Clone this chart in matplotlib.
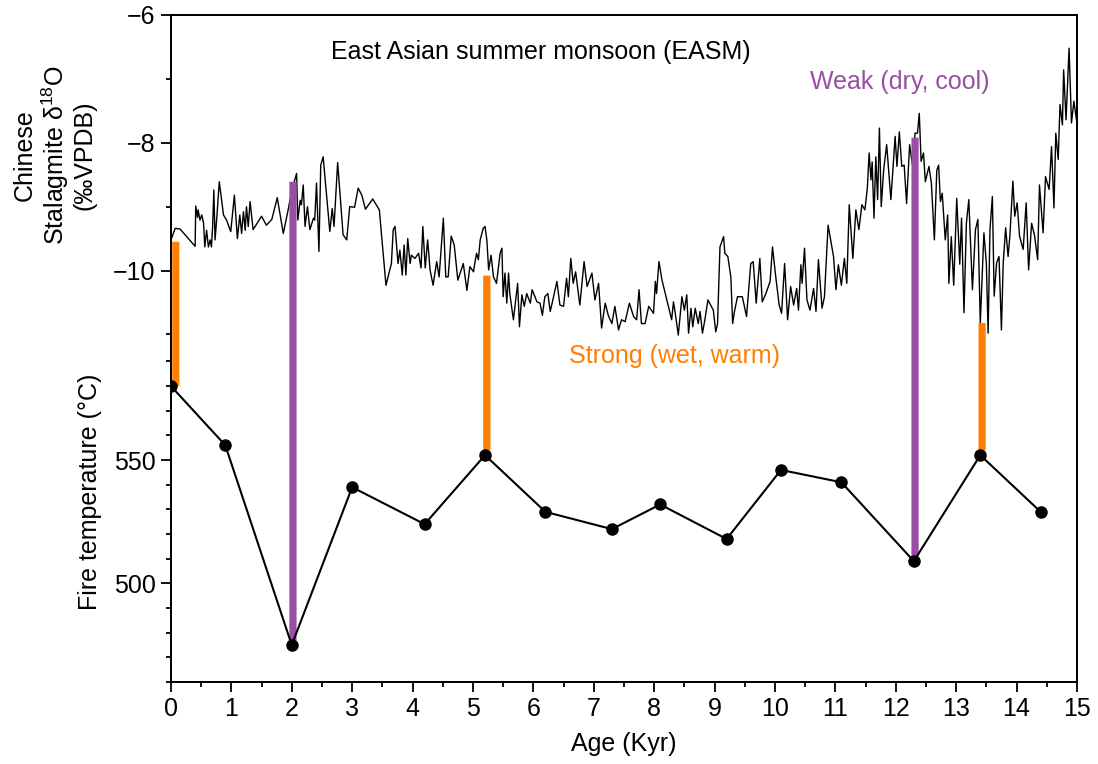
import matplotlib
matplotlib.use("Agg")
import matplotlib.pyplot as plt
from matplotlib.patches import ConnectionPatch

plt.rcParams['font.family'] = ['Liberation Sans', 'DejaVu Sans']
plt.rcParams['mathtext.fontset'] = 'custom'
plt.rcParams['mathtext.rm'] = 'Liberation Sans'
plt.rcParams['mathtext.it'] = 'Liberation Sans:italic'

# stalagmite d18O record (age in kyr, permil VPDB)
easm_age = [0.00, 0.07, 0.15, 0.40, 0.41, 0.44, 0.45, 0.48, 0.51, 0.54, 0.56, 0.59, 0.62, 0.65,
            0.67, 0.69, 0.71, 0.73, 0.76, 0.80, 0.87, 0.92, 0.99, 1.05, 1.10, 1.14, 1.17, 1.20,
            1.23, 1.25, 1.28, 1.31, 1.36, 1.50, 1.58, 1.67, 1.76, 1.86, 1.94, 2.00, 2.08, 2.10,
            2.14, 2.16, 2.19, 2.22, 2.26, 2.30, 2.36, 2.38, 2.41, 2.45, 2.48, 2.52, 2.63, 2.67,
            2.70, 2.76, 2.85, 2.91, 2.96, 3.04, 3.10, 3.16, 3.22, 3.34, 3.45, 3.56, 3.65, 3.68,
            3.71, 3.76, 3.79, 3.83, 3.86, 3.89, 3.92, 3.96, 3.98, 4.04, 4.10, 4.14, 4.17, 4.21,
            4.25, 4.29, 4.34, 4.40, 4.44, 4.51, 4.55, 4.59, 4.64, 4.69, 4.75, 4.84, 4.90, 4.95,
            5.01, 5.03, 5.06, 5.09, 5.12, 5.17, 5.20, 5.23, 5.26, 5.30, 5.34, 5.39, 5.45, 5.48,
            5.50, 5.53, 5.56, 5.59, 5.61, 5.67, 5.74, 5.77, 5.81, 5.85, 5.89, 5.95, 5.98, 6.06,
            6.11, 6.15, 6.19, 6.24, 6.28, 6.33, 6.39, 6.44, 6.50, 6.55, 6.58, 6.62, 6.66, 6.70,
            6.77, 6.84, 6.89, 6.97, 7.02, 7.08, 7.13, 7.19, 7.24, 7.30, 7.35, 7.41, 7.46, 7.52,
            7.59, 7.66, 7.71, 7.75, 7.79, 7.85, 7.91, 7.99, 8.02, 8.04, 8.08, 8.13, 8.21, 8.29,
            8.32, 8.35, 8.40, 8.46, 8.50, 8.54, 8.57, 8.61, 8.64, 8.68, 8.73, 8.76, 8.80, 8.84,
            8.89, 8.98, 9.02, 9.05, 9.09, 9.15, 9.17, 9.22, 9.27, 9.30, 9.33, 9.38, 9.46, 9.53,
            9.60, 9.64, 9.69, 9.75, 9.79, 9.85, 9.92, 9.96, 10.01, 10.07, 10.11, 10.16, 10.21,
            10.26, 10.31, 10.36, 10.39, 10.43, 10.45, 10.49, 10.53, 10.58, 10.64, 10.68, 10.72,
            10.78, 10.82, 10.88, 10.97, 11.01, 11.05, 11.10, 11.15, 11.19, 11.23, 11.29, 11.34,
            11.39, 11.44, 11.49, 11.53, 11.56, 11.59, 11.61, 11.64, 11.67, 11.70, 11.73, 11.76,
            11.80, 11.85, 11.92, 11.99, 12.02, 12.06, 12.10, 12.14, 12.18, 12.23, 12.28, 12.32,
            12.36, 12.39, 12.42, 12.46, 12.49, 12.55, 12.59, 12.64, 12.68, 12.71, 12.74, 12.77,
            12.82, 12.86, 12.88, 12.92, 12.96, 13.01, 13.06, 13.09, 13.13, 13.17, 13.21, 13.27,
            13.32, 13.36, 13.40, 13.46, 13.50, 13.53, 13.56, 13.60, 13.63, 13.67, 13.71, 13.75,
            13.78, 13.82, 13.86, 13.89, 13.92, 13.94, 13.97, 14.01, 14.05, 14.11, 14.16, 14.20,
            14.25, 14.30, 14.35, 14.38, 14.44, 14.48, 14.54, 14.58, 14.62, 14.65, 14.69, 14.72,
            14.76, 14.78, 14.82, 14.87, 14.91, 14.95, 15.00]
easm_d18o = [-9.52, -9.34, -9.35, -9.62, -8.99, -9.17, -9.05, -9.21, -9.13, -9.26, -9.63, -9.37,
             -9.63, -9.52, -9.63, -9.31, -8.74, -9.52, -9.16, -8.61, -9.13, -9.21, -9.39, -8.82,
             -9.50, -9.13, -9.42, -9.08, -9.37, -9.00, -9.31, -8.92, -9.36, -9.15, -9.29, -9.20,
             -8.86, -9.42, -9.05, -8.75, -8.48, -9.21, -8.90, -8.97, -8.66, -9.31, -9.00, -9.36,
             -9.18, -9.21, -8.63, -9.70, -8.35, -8.22, -9.39, -9.03, -9.31, -8.31, -9.44, -9.52,
             -9.00, -9.01, -8.71, -8.82, -9.04, -8.88, -9.05, -10.23, -9.89, -9.36, -9.31, -9.89,
             -9.68, -10.07, -9.60, -10.07, -9.50, -9.89, -9.76, -9.81, -9.73, -9.96, -9.31, -9.96,
             -9.52, -9.99, -10.23, -9.86, -10.10, -9.18, -10.10, -10.10, -9.46, -9.60, -10.15,
             -9.89, -10.31, -9.94, -10.02, -9.89, -9.73, -9.83, -9.52, -9.34, -9.31, -9.52, -9.99,
             -9.76, -10.10, -10.20, -9.73, -9.65, -10.41, -10.04, -10.51, -10.04, -10.36, -10.77,
             -10.20, -10.88, -10.38, -10.56, -10.36, -10.51, -10.30, -10.49, -10.51, -10.70,
             -10.41, -10.36, -10.64, -10.43, -10.17, -10.54, -10.56, -10.12, -10.41, -9.81,
             -10.20, -10.02, -10.54, -9.86, -10.25, -10.04, -10.46, -10.20, -10.90, -10.51,
             -10.70, -10.83, -10.56, -10.93, -10.77, -10.80, -10.51, -10.72, -10.77, -10.30,
             -10.83, -10.83, -10.56, -10.67, -10.17, -10.36, -9.86, -10.15, -10.46, -10.77,
             -10.49, -10.67, -11.01, -10.41, -10.62, -10.38, -10.98, -10.59, -10.88, -10.59,
             -10.83, -10.64, -10.98, -10.77, -10.46, -10.62, -10.96, -10.83, -9.63, -9.47, -9.73,
             -9.78, -10.10, -10.83, -10.64, -10.41, -10.41, -10.72, -9.89, -9.86, -10.51, -9.81,
             -10.49, -10.36, -10.17, -9.63, -10.07, -10.54, -10.67, -9.89, -10.77, -10.25,
             -10.54, -10.28, -10.62, -9.91, -10.20, -9.65, -10.46, -10.62, -10.28, -10.64, -9.83,
             -10.59, -10.41, -9.29, -9.78, -10.30, -9.91, -10.23, -9.81, -10.20, -8.97, -9.81,
             -9.05, -9.36, -8.97, -9.05, -8.71, -8.16, -8.58, -8.30, -9.18, -8.22, -8.89, -7.77,
             -9.00, -8.43, -8.03, -8.89, -7.90, -8.37, -7.83, -8.37, -8.35, -8.95, -8.03, -8.37,
             -7.85, -7.85, -7.54, -8.29, -8.16, -8.61, -8.37, -8.63, -9.52, -8.43, -8.35, -8.92,
             -8.79, -9.52, -9.13, -10.20, -9.47, -10.23, -8.87, -9.90, -9.18, -10.66, -9.26,
             -8.89, -10.30, -9.36, -9.20, -10.82, -9.41, -9.88, -10.98, -9.36, -8.84, -10.40,
             -9.88, -9.78, -10.93, -9.88, -9.33, -9.78, -9.46, -8.94, -8.60, -9.15, -8.94, -9.46,
             -9.67, -8.94, -9.99, -9.26, -9.46, -9.83, -8.66, -9.41, -8.53, -8.73, -8.06, -9.02,
             -7.85, -8.26, -7.40, -7.72, -6.86, -7.64, -6.52, -7.69, -7.35, -7.69]

# fire temperature samples
fire_age = [0.0, 0.9, 2.0, 3.0, 4.2, 5.2, 6.2, 7.3, 8.1, 9.2, 10.1, 11.1, 12.3, 13.4, 14.4]
fire_temp = [580, 556, 475, 539, 524, 552, 529, 522, 532, 518, 546, 541, 509, 552, 529]

# links between the two records
link_age = [0.08, 2.02, 5.23, 12.32, 13.43]
link_d18o = [-9.55, -8.61, -10.08, -7.92, -10.82]
link_temp = [580, 477, 554, 511, 554]
link_kind = ['strong', 'weak', 'strong', 'weak', 'strong']

orange = '#ff7f00'
purple = '#984ea3'
link_color = {'strong': orange, 'weak': purple}

fig = plt.figure(figsize=(10.98, 7.64), dpi=100)
ax = fig.add_axes([0.1557, 0.1073, 0.8251, 0.8731])
ax2 = ax.twinx()

# fire axis on top so the dots cover the bars
ax.set_zorder(ax2.get_zorder() + 1)
ax.patch.set_visible(False)

ax.set_xlim(0, 15)
ax.set_ylim(460, 730.5)
ax2.set_ylim(-16.44, -6)

ax2.plot(easm_age, easm_d18o, color='black', lw=1.0)

for a, d, t, k in zip(link_age, link_d18o, link_temp, link_kind):
    con = ConnectionPatch(xyA=(a, d), coordsA=ax2.transData,
                          xyB=(a, t), coordsB=ax.transData,
                          color=link_color[k], lw=5.2, capstyle='butt', zorder=1)
    ax.add_artist(con)

ax.plot(fire_age, fire_temp, color='black', lw=1.5, marker='o', ms=8, zorder=3)

# ticks
ax.set_xticks(range(0, 16))
ax.set_xticks([i + 0.5 for i in range(15)], minor=True)
ax.set_yticks([500, 550])
ax.set_yticks(range(460, 600, 10), minor=True)
ax2.yaxis.tick_left()
ax2.set_yticks([-10, -8, -6])
ax2.set_yticklabels(['\u221210', '\u22128', '\u22126'])
ax2.set_yticks([-11, -9, -7], minor=True)

for a in (ax, ax2):
    a.tick_params(which='major', length=7, width=1.3, labelsize=18, pad=4)
    a.tick_params(which='minor', length=3.5, width=1.3)
    for s in a.spines.values():
        s.set_linewidth(1.4)

ax.set_xlabel('Age (Kyr)', fontsize=18, labelpad=8)
ax.text(-0.089, 0.285, 'Fire temperature (\u00b0C)', transform=ax.transAxes,
        rotation=90, ha='center', va='center', fontsize=18)
ax.text(-0.128, 0.79, 'Chinese\nStalagmite \u03b4$^{18}$O\n(\u2030VPDB)', transform=ax.transAxes,
        rotation=90, ha='center', va='center', multialignment='center', fontsize=18,
        linespacing=1.1)

ax2.text(6.13, -6.58, 'East Asian summer monsoon (EASM)', ha='center', va='center', fontsize=18)
ax2.text(12.07, -7.05, 'Weak (dry, cool)', ha='center', va='center', fontsize=18, color=purple)
ax2.text(8.33, -11.33, 'Strong (wet, warm)', ha='center', va='center', fontsize=18, color=orange)

fig.savefig('out.png', dpi=100)
